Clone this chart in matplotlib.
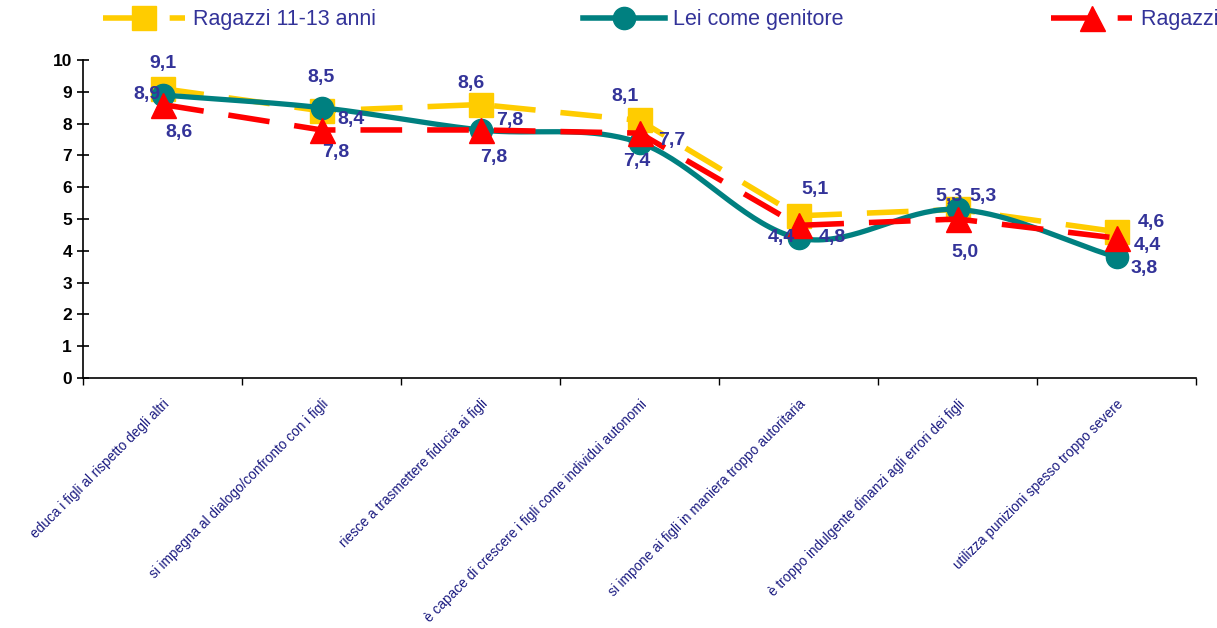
import numpy as np
import matplotlib.pyplot as plt
from matplotlib.lines import Line2D

plt.rcParams['font.family'] = ['Liberation Sans', 'DejaVu Sans']

categorie = ["educa i figli al rispetto degli altri",
             "si impegna al dialogo/confronto con i figli",
             "riesce a trasmettere fiducia ai figli",
             "è capace di crescere i figli come individui autonomi",
             "si impone ai figli in maniera troppo autoritaria",
             "è troppo indulgente dinanzi agli errori dei figli",
             "utilizza punizioni spesso troppo severe"]

ragazzi_11_13 = [9.1, 8.4, 8.6, 8.1, 5.1, 5.3, 4.6]
genitore = [8.9, 8.5, 7.8, 7.4, 4.4, 5.3, 3.8]
ragazzi_altri = [8.6, 7.8, 7.8, 7.7, 4.8, 5.0, 4.4]

nomi = ["Ragazzi 11-13 anni", "Lei come genitore", "Ragazzi 14-18 anni"]

# offset (pixel) delle etichette dei valori
off_giallo = [(0, 25), (30, -9), (-9, 21), (-15, 24), (17, 26), (-9, 13), (35, 9)]
off_verde = [(-16, 0), (0, 30), (29, 9), (-3, -19), (-17, 1), (26, 13), (28, -11)]
off_rosso = [(17, -28), (14, -23), (13, -28), (32, -7), (34, -12), (7, -33), (31, -7)]

GIALLO = '#FFCC00'
VERDE = '#008080'
ROSSO = '#FF0000'
BLU = '#333399'


def smooth(x, y, n=40):
    # curva Catmull-Rom come la linea smussata di Excel
    x = np.asarray(x, float)
    y = np.asarray(y, float)
    px = np.concatenate([[2 * x[0] - x[1]], x, [2 * x[-1] - x[-2]]])
    py = np.concatenate([[2 * y[0] - y[1]], y, [2 * y[-1] - y[-2]]])
    xs, ys = [], []
    t = np.linspace(0, 1, n)
    for i in range(1, len(px) - 2):
        for p, out in ((px, xs), (py, ys)):
            p0, p1, p2, p3 = p[i - 1], p[i], p[i + 1], p[i + 2]
            out.extend(0.5 * ((2 * p1) + (-p0 + p2) * t +
                              (2 * p0 - 5 * p1 + 4 * p2 - p3) * t ** 2 +
                              (-p0 + 3 * p1 - 3 * p2 + p3) * t ** 3))
    return np.array(xs), np.array(ys)


fig = plt.figure(figsize=(12.17, 6.28), dpi=100)
ax = fig.add_axes([83 / 1217, 1 - 378 / 628, (1196 - 83) / 1217, (378 - 60) / 628])

x = np.arange(len(categorie))

ax.plot(x, ragazzi_11_13, color=GIALLO, lw=4, dashes=(7.5, 4.5),
        marker='s', ms=17, mec=GIALLO, zorder=3)
sx, sy = smooth(x, genitore)
ax.plot(sx, sy, color=VERDE, lw=3.8, zorder=4)
ax.plot(x, genitore, ls='none', marker='o', ms=16, color=VERDE, zorder=4)
ax.plot(x, ragazzi_altri, color=ROSSO, lw=4, dashes=(7.5, 4.5),
        marker='^', ms=18, mec=ROSSO, zorder=5)

for serie, offs in ((ragazzi_11_13, off_giallo), (genitore, off_verde), (ragazzi_altri, off_rosso)):
    for xi, v, (dx, dy) in zip(x, serie, offs):
        ax.annotate(f"{v:.1f}".replace('.', ','), (xi, v), xytext=(dx, dy),
                    textcoords='offset pixels', ha='center', va='center',
                    fontsize=14, fontweight='bold', color=BLU, zorder=6)

ax.set_xlim(-0.5, len(categorie) - 0.5)
ax.set_ylim(0, 10)
ax.set_yticks(range(0, 11))
ax.tick_params(axis='y', direction='inout', length=8, width=1.2, labelsize=12.5, pad=4)
for lab in ax.get_yticklabels():
    lab.set_fontweight('bold')

ax.set_xticks(np.arange(-0.5, len(categorie)), minor=False)
ax.set_xticklabels([])
ax.tick_params(axis='x', direction='out', length=5, width=1)
for xi, c in zip(x, categorie):
    ax.text(xi, -0.6, c, rotation=45, ha='right', va='top', rotation_mode='anchor',
            fontsize=9.8, color='#1a1a80', clip_on=False)

for s in ('top', 'right'):
    ax.spines[s].set_visible(False)
ax.spines['left'].set_linewidth(1.2)
ax.spines['bottom'].set_linewidth(1.2)

handles = [Line2D([], [], color=GIALLO, lw=4, dashes=(7.5, 4.5), marker='s', ms=17),
           Line2D([], [], color=VERDE, lw=4, marker='o', ms=16),
           Line2D([], [], color=ROSSO, lw=4, dashes=(7.5, 4.5), marker='^', ms=18)]
fig.legend(handles, nomi, loc='center left', bbox_to_anchor=(103 / 1217, 1 - 20 / 628),
           ncol=3, frameon=False, fontsize=15.5, labelcolor=BLU, handlelength=3.8,
           handletextpad=0.4, columnspacing=9.6, borderpad=0, borderaxespad=0)

fig.savefig('out.png', dpi=100)
